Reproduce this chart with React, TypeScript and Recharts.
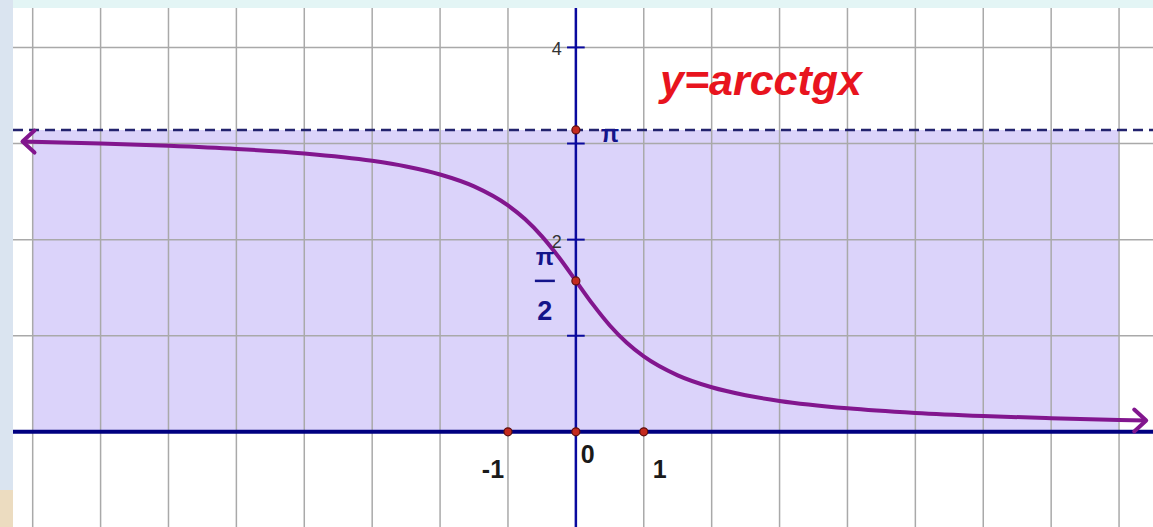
import React from 'react';
import {
  ComposedChart,
  Line,
  XAxis,
  YAxis,
  ReferenceLine,
  ReferenceArea,
  ReferenceDot,
} from 'recharts';

// y = arcctg x, sampled along the visible range
const curveX = [-8.15, -7, -6, -5, -4, -3, -2.5, -2, -1.5, -1, -0.75, -0.5, -0.25, 0, 0.25, 0.5, 0.75, 1, 1.5, 2, 2.5, 3, 4, 5, 6, 7, 8, 8.4];
const curveY = [3.020, 3.000, 2.976, 2.944, 2.897, 2.820, 2.761, 2.678, 2.554, 2.356, 2.214, 2.034, 1.816, 1.571, 1.326, 1.107, 0.927, 0.785, 0.588, 0.464, 0.381, 0.322, 0.245, 0.197, 0.165, 0.142, 0.124, 0.118];

const PI = 3.1416;
const HALF_PI = 1.5708;

const gridX = [-8, -7, -6, -5, -4, -3, -2, -1, 1, 2, 3, 4, 5, 6, 7, 8];
const gridY = [-1, 1, 2, 3, 4];
const yTicks = [-1, 1, 2, 3, 4];
const yTickLabels = [
  { y: 4, text: '4' },
  { y: 2, text: '2' },
];
const xLabels = [
  { x: -1, text: '-1' },
  { x: 0, text: '0' },
  { x: 1, text: '1' },
];
const markedPoints = [
  { x: -1, y: 0 },
  { x: 0, y: 0 },
  { x: 1, y: 0 },
  { x: 0, y: HALF_PI },
  { x: 0, y: PI },
];

const curveData = curveX.map((x, i) => ({ x, y: curveY[i] }));

const X_DOMAIN: [number, number] = [-8.29, 8.5];
const Y_DOMAIN: [number, number] = [-0.99, 4.41];

const NAVY = '#14148a';
const PURPLE = '#82168e';
const GRID = '#a9a9a9';
const LABEL_FONT = '"Liberation Sans Narrow", "Liberation Sans", Arial, sans-serif';

const renderArrow = (props: any) => {
  const { cx, cy, index } = props;
  const last = curveData.length - 1;
  if (index !== 0 && index !== last) return <g key={`a-${index}`} />;
  const dir = index === 0 ? 1 : -1;
  return (
    <path
      key={`a-${index}`}
      d={`M${cx + dir * 12},${cy - 11} L${cx},${cy} L${cx + dir * 12},${cy + 11}`}
      fill="none"
      stroke={PURPLE}
      strokeWidth={4}
      strokeLinecap="round"
      strokeLinejoin="round"
    />
  );
};

export default function App() {
  return (
    <div style={{ position: 'absolute', left: 0, top: 0, width: 1153, height: 527, background: '#dae4f0', overflow: 'hidden' }}>
      {/* slide ruler strip along the top */}
      <div style={{ position: 'absolute', left: 13, top: 0, width: 1140, height: 8, background: '#e3f5f5' }} />
      <div style={{ position: 'absolute', left: 0, top: 490, width: 13, height: 37, background: '#ecdcc0' }} />
      <div style={{ position: 'absolute', left: 13, top: 8, width: 1140, height: 519, background: '#ffffff' }}>
        <ComposedChart
          width={1140}
          height={519}
          data={curveData}
          margin={{ top: 0, right: 0, bottom: 0, left: 0 }}
        >
          <XAxis dataKey="x" type="number" domain={X_DOMAIN} allowDataOverflow hide />
          <YAxis type="number" domain={Y_DOMAIN} allowDataOverflow hide />

          <ReferenceArea x1={-8} x2={8} y1={0} y2={PI} fill="#b8a8f6" fillOpacity={0.5} stroke="none" />

          {gridX.map((x) => (
            <ReferenceLine key={`gx${x}`} x={x} stroke={GRID} strokeWidth={1.5} />
          ))}
          {gridY.map((y) => (
            <ReferenceLine key={`gy${y}`} y={y} stroke={GRID} strokeWidth={1.5} />
          ))}

          <ReferenceLine y={PI} stroke="#23236e" strokeWidth={2.5} strokeDasharray="10 6" />
          <ReferenceLine y={0} stroke="#000080" strokeWidth={4} />
          <ReferenceLine x={0} stroke="#0a0a9e" strokeWidth={2.5} />

          {yTicks.map((y) => (
            <ReferenceLine
              key={`t${y}`}
              segment={[{ x: -0.13, y }, { x: 0.13, y }]}
              stroke="#0a0a9e"
              strokeWidth={2}
            />
          ))}

          <Line
            dataKey="y"
            type="monotone"
            stroke={PURPLE}
            strokeWidth={4}
            dot={renderArrow}
            activeDot={false}
            isAnimationActive={false}
          />

          {yTickLabels.map((t) => (
            <ReferenceDot
              key={`yl${t.y}`}
              x={0}
              y={t.y}
              r={0}
              shape={(p: any) => (
                <text x={p.cx - 14} y={p.cy + 8} textAnchor="end" fontSize={18} fill="#333" fontFamily="Arial, sans-serif">
                  {t.text}
                </text>
              )}
            />
          ))}

          {xLabels.map((l) => (
            <ReferenceDot
              key={`xl${l.x}`}
              x={l.x}
              y={0}
              r={0}
              shape={(p: any) => (
                <text
                  x={l.x === 0 ? p.cx + 5 : p.cx + (l.x < 0 ? -15 : 9)}
                  y={p.cy + (l.x === 0 ? 31 : 46)}
                  textAnchor={l.x < 0 ? 'middle' : 'start'}
                  fontSize={25}
                  fontWeight="bold"
                  fill="#1a1a1a"
                  fontFamily={LABEL_FONT}
                >
                  {l.text}
                </text>
              )}
            />
          ))}

          {/* π marker on the asymptote */}
          <ReferenceDot
            x={0}
            y={PI}
            r={0}
            shape={(p: any) => (
              <text x={p.cx + 25} y={p.cy + 12} fontSize={24} fontWeight="bold" fill={NAVY} fontFamily="Arial, sans-serif">
                π
              </text>
            )}
          />
          {/* π/2 fraction beside the y-intercept */}
          <ReferenceDot
            x={0}
            y={HALF_PI}
            r={0}
            shape={(p: any) => (
              <g>
                <text x={p.cx - 31} y={p.cy - 16} textAnchor="middle" fontSize={24} fontWeight="bold" fill={NAVY} fontFamily="Arial, sans-serif">
                  π
                </text>
                <line x1={p.cx - 41} x2={p.cx - 21} y1={p.cy} y2={p.cy} stroke={NAVY} strokeWidth={2.5} />
                <text x={p.cx - 31} y={p.cy + 39} textAnchor="middle" fontSize={27} fontWeight="bold" fill={NAVY} fontFamily={LABEL_FONT}>
                  2
                </text>
              </g>
            )}
          />

          {markedPoints.map((pt, i) => (
            <ReferenceDot key={`m${i}`} x={pt.x} y={pt.y} r={4} fill="#c42a1e" stroke="#5c1010" strokeWidth={1.2} />
          ))}
        </ComposedChart>
      </div>
      <svg width={1153} height={527} style={{ position: 'absolute', left: 0, top: 0, pointerEvents: 'none' }}>
        <text
          x={660}
          y={95}
          fontSize={43}
          fontWeight="bold"
          fontStyle="italic"
          fill="#e8141e"
          fontFamily='"Liberation Sans", Arial, sans-serif'
        >
          y=arcctgx
        </text>
      </svg>
    </div>
  );
}
